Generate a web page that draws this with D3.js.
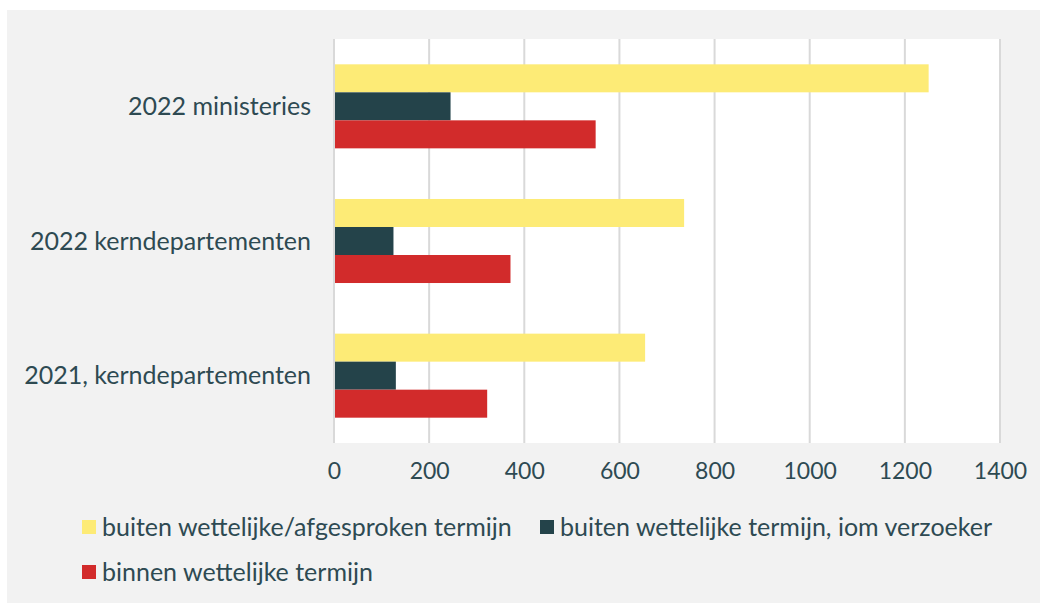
<!DOCTYPE html>
<html><head><meta charset="utf-8">
<script src="https://cdn.jsdelivr.net/npm/d3@7"></script>
<style>body{margin:0;background:#fff;}svg{display:block;}</style>
</head><body>
<script>
const categories = ["2022 ministeries", "2022 kerndepartementen", "2021, kerndepartementen"];
const seriesNames = ["buiten wettelijke/afgesproken termijn", "buiten wettelijke termijn, iom verzoeker", "binnen wettelijke termijn"];
const buitenAfgesproken = [1250, 736, 654];
const buitenIomVerzoeker = [245, 125, 130];
const binnenTermijn = [550, 371, 322];
const xTicks = [0, 200, 400, 600, 800, 1000, 1200, 1400];
const colors = ["#fdeb76", "#24434a", "#d22b2b"];

const seriesValues = [buitenAfgesproken, buitenIomVerzoeker, binnenTermijn];
const W = 1045, H = 603;
const textColor = "#2e4a52";
const font = "Lato, 'Open Sans', sans-serif";

const svg = d3.select("body").append("svg").attr("width", W).attr("height", H);
svg.append("rect").attr("x", 7).attr("y", 10).attr("width", 1033).attr("height", 593).attr("fill", "#f2f2f2");

const x = d3.scaleLinear().domain([0, 1400]).range([334, 1000]);
const y = d3.scaleBand().domain(categories).range([39, 443]).paddingInner(0.376).paddingOuter(0.188);
const ySub = d3.scaleBand().domain(d3.range(3)).range([0, y.bandwidth()]);

svg.append("rect").attr("x", x(0)).attr("y", 39).attr("width", x(1400) - x(0)).attr("height", 404).attr("fill", "#fff");

// gridlines
svg.append("g").selectAll("line").data(xTicks).join("line")
  .attr("x1", d => x(d)).attr("x2", d => x(d)).attr("y1", 39).attr("y2", 443)
  .attr("stroke", "#d9d9d9").attr("stroke-width", 2);

// bars
const g = svg.append("g");
categories.forEach((c, ci) => {
  seriesValues.forEach((vals, si) => {
    g.append("rect")
      .attr("x", x(0) + 1)
      .attr("y", y(c) + ySub(si))
      .attr("width", x(vals[ci]) - x(0) - 1)
      .attr("height", ySub.bandwidth())
      .attr("fill", colors[si]);
  });
});

// x axis labels
const xAxis = d3.axisBottom(x).tickValues(xTicks).tickSize(0).tickPadding(0).tickFormat(d3.format("d"));
const xa = svg.append("g").attr("transform", "translate(0,463)").call(xAxis);
xa.select(".domain").remove();
xa.selectAll("text").attr("font-family", font).attr("font-size", 23).attr("fill", textColor).attr("dy", "0.71em");

// y axis labels
const yAxis = d3.axisLeft(y).tickSize(0).tickPadding(23);
const ya = svg.append("g").attr("transform", `translate(${x(0)},0)`).call(yAxis);
ya.select(".domain").remove();
ya.selectAll("text").attr("font-family", font).attr("font-size", 25).attr("fill", textColor).attr("dy", "0.35em");

// legend
const legendPos = [[82, 527], [540, 527], [82, 572]];
const lg = svg.append("g");
seriesNames.forEach((name, i) => {
  const [lx, ly] = legendPos[i];
  lg.append("rect").attr("x", lx).attr("y", ly - 7).attr("width", 14).attr("height", 14).attr("fill", colors[i]);
  lg.append("text").attr("x", lx + 20).attr("y", ly).attr("dy", "0.35em")
    .attr("font-family", font).attr("font-size", 25).attr("fill", textColor).text(name);
});
</script>
</body></html>
